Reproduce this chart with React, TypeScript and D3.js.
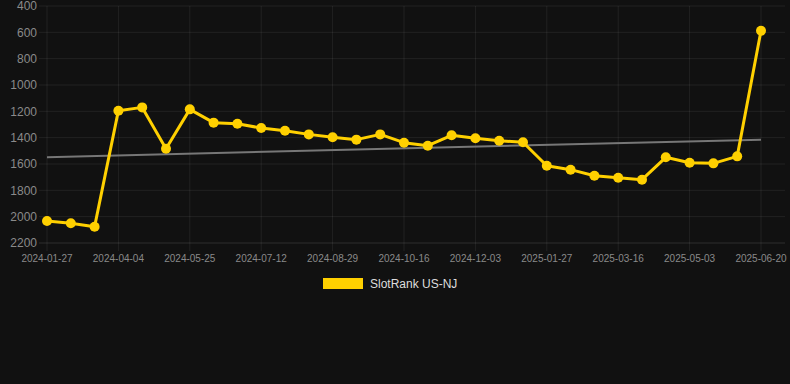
import React, { useEffect, useRef } from 'react';
import * as d3 from 'd3';

const dates = [
    '2024-01-27', '2024-02-19', '2024-03-13', '2024-04-04', '2024-04-21', '2024-05-08',
    '2024-05-25', '2024-06-10', '2024-06-26', '2024-07-12', '2024-07-28', '2024-08-13',
    '2024-08-29', '2024-09-14', '2024-09-30', '2024-10-16', '2024-11-01', '2024-11-17',
    '2024-12-03', '2024-12-21', '2025-01-09', '2025-01-27', '2025-02-12', '2025-02-28',
    '2025-03-16', '2025-04-01', '2025-04-17', '2025-05-03', '2025-05-19', '2025-06-04',
    '2025-06-20',
];

const ranks = [
    2033, 2050, 2076, 1195, 1170, 1484,
    1185, 1286, 1294, 1327, 1347, 1375,
    1397, 1415, 1375, 1438, 1461, 1382,
    1405, 1423, 1435, 1613, 1643, 1689,
    1704, 1719, 1549, 1590, 1595, 1542,
    588,
];

// trend line values at first and last date
const trend = [1548, 1415];

const yTicks = [400, 600, 800, 1000, 1200, 1400, 1600, 1800, 2000, 2200];

const seriesName = 'SlotRank US-NJ';

const W = 790;
const H = 384;

const App: React.FC = () => {
    const ref = useRef<SVGSVGElement>(null);

    useEffect(() => {
        const svg = d3.select(ref.current);
        svg.selectAll('*').remove();

        const left = 47;
        const right = 761;
        const top = 6;
        const bottom = 243;
        const gold = '#ffd000';
        const grid = 'rgba(255,255,255,0.07)';

        svg.append('rect').attr('width', W).attr('height', H).attr('fill', '#111111');

        const x = d3.scalePoint<string>().domain(dates).range([left, right]);
        const y = d3.scaleLinear().domain([400, 2200]).range([top, bottom]);

        // horizontal grid + labels
        const yg = svg.append('g');
        yTicks.forEach(t => {
            yg.append('line')
                .attr('x1', left - 8).attr('x2', 785)
                .attr('y1', y(t)).attr('y2', y(t))
                .attr('stroke', t === 2200 ? 'rgba(255,255,255,0.12)' : grid)
                .attr('stroke-width', 1);
            yg.append('text')
                .attr('x', 37).attr('y', y(t))
                .attr('dy', '0.35em')
                .attr('text-anchor', 'end')
                .attr('fill', '#8a8a8a')
                .style('font-family', 'Arial, "Liberation Sans", sans-serif')
                .style('font-size', '12px')
                .text(t);
        });

        // vertical grid + labels on every 3rd date
        const xg = svg.append('g');
        dates.forEach((d, i) => {
            if (i % 3 !== 0) return;
            xg.append('line')
                .attr('x1', x(d)!).attr('x2', x(d)!)
                .attr('y1', top).attr('y2', bottom + 8)
                .attr('stroke', grid);
            xg.append('text')
                .attr('x', x(d)!).attr('y', 262)
                .attr('text-anchor', 'middle')
                .attr('fill', '#8a8a8a')
                .style('font-family', 'Arial, "Liberation Sans", sans-serif')
                .style('font-size', '10px')
                .text(d);
        });

        // trend line
        svg.append('line')
            .attr('x1', x(dates[0])!).attr('x2', x(dates[dates.length - 1])!)
            .attr('y1', y(trend[0])).attr('y2', y(trend[1]))
            .attr('stroke', '#777777')
            .attr('stroke-width', 2);

        const line = d3.line<number>()
            .x((_, i) => x(dates[i])!)
            .y(v => y(v));

        svg.append('path')
            .datum(ranks)
            .attr('d', line)
            .attr('fill', 'none')
            .attr('stroke', gold)
            .attr('stroke-width', 3)
            .attr('stroke-linejoin', 'round');

        svg.append('g')
            .selectAll('circle')
            .data(ranks)
            .enter()
            .append('circle')
            .attr('cx', (_, i) => x(dates[i])!)
            .attr('cy', v => y(v))
            .attr('r', 5)
            .attr('fill', gold);

        // legend
        svg.append('rect')
            .attr('x', 323).attr('y', 278)
            .attr('width', 40).attr('height', 11)
            .attr('fill', gold);
        svg.append('text')
            .attr('x', 370).attr('y', 288)
            .attr('fill', '#dddddd')
            .style('font-family', 'Arial, "Liberation Sans", sans-serif')
            .style('font-size', '12px')
            .text(seriesName);
    }, []);

    return (
        <svg ref={ref} width={W} height={H}
            style={{ position: 'absolute', left: 0, top: 0, display: 'block' }} />
    );
};

export default App;
